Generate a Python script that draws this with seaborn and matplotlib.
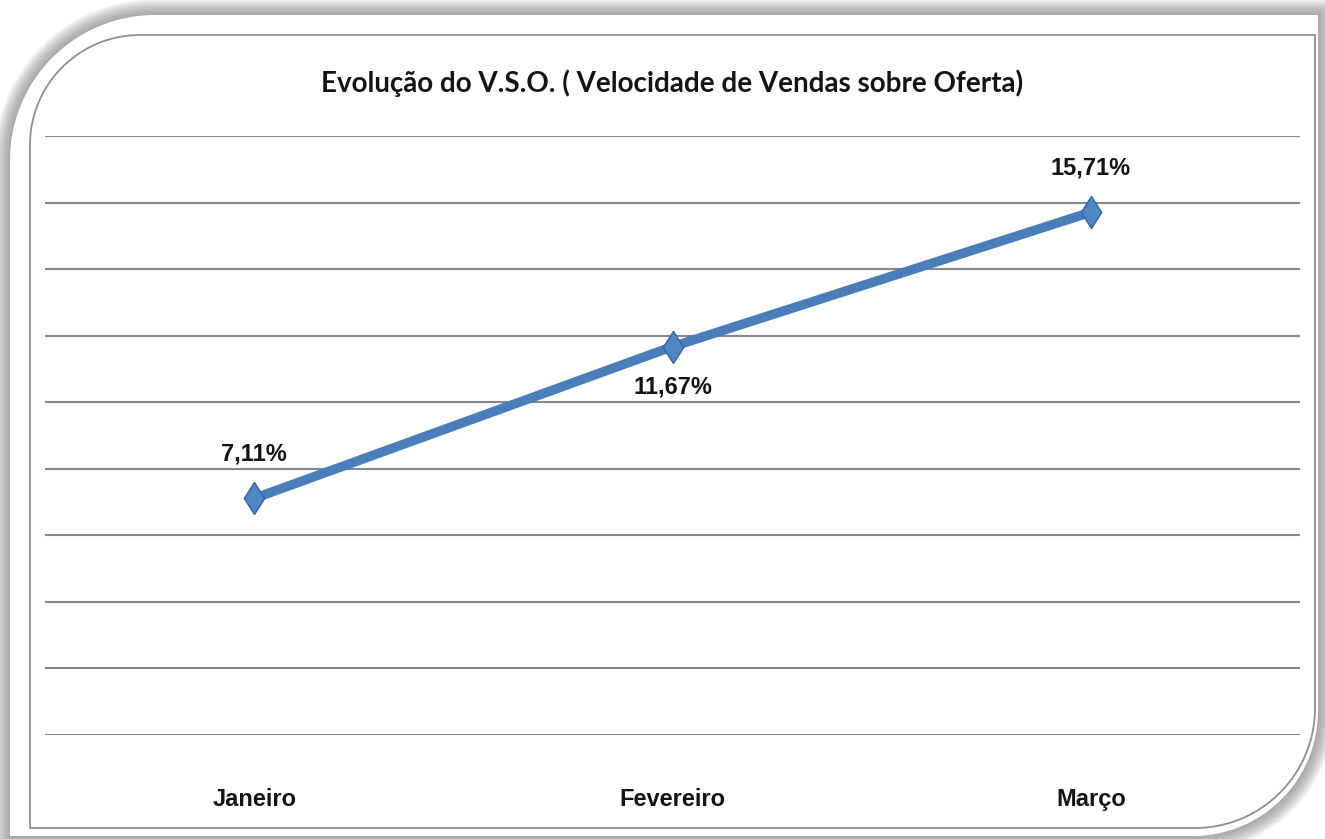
import numpy as np
import pandas as pd
import matplotlib
matplotlib.use("Agg")
import matplotlib.pyplot as plt
from matplotlib.patches import Polygon
from matplotlib.path import Path
import seaborn as sns

# ---- data ----
months = ["Janeiro", "Fevereiro", "Março"]
vso_values = [7.11, 11.67, 15.71]
value_labels = ["7,11%", "11,67%", "15,71%"]
label_side = ["above", "below", "above"]
title = "Evolução do V.S.O. ( Velocidade de Vendas sobre Oferta)"
y_ticks = list(range(0, 19, 2))

W, H = 1325, 839
sns.set_theme(style="white")
plt.rcParams['font.family'] = ['Liberation Sans Narrow', 'Liberation Sans', 'DejaVu Sans']

fig = plt.figure(figsize=(W / 100, H / 100), dpi=100)
fig.patch.set_facecolor("white")


def card_path(x0, y0, x1, y1, r_tl, r_br, n=40):
    pts = [(x0 + r_tl, y0), (x1, y0), (x1, y1 - r_br)]
    a = np.linspace(0, np.pi / 2, n)
    pts += list(zip(x1 - r_br + r_br * np.cos(a), y1 - r_br + r_br * np.sin(a)))
    pts += [(x0, y1), (x0, y0 + r_tl)]
    a = np.linspace(np.pi, 1.5 * np.pi, n)
    pts += list(zip(x0 + r_tl + r_tl * np.cos(a), y0 + r_tl + r_tl * np.sin(a)))
    return np.array([(x / W, 1 - y / H) for x, y in pts])


# shadow glow
for k in range(16, 0, -1):
    fig.patches.append(Polygon(card_path(10 - k, 15 - k, 1318 + k, 836 + k, 145 + k, 125 + k),
                               closed=True, transform=fig.transFigure,
                               facecolor="#7a7a7a", edgecolor="none", alpha=0.055, zorder=0))
# outer white card
fig.patches.append(Polygon(card_path(10, 15, 1318, 836, 145, 125), closed=True,
                           transform=fig.transFigure, facecolor="white",
                           edgecolor="none", zorder=1))
# inner chart frame
fig.patches.append(Polygon(card_path(30, 35, 1315, 828, 110, 120), closed=True,
                           transform=fig.transFigure, facecolor="white",
                           edgecolor="#8f8f8f", linewidth=1.3, zorder=2))

ax = fig.add_axes([45 / W, 1 - 735 / H, (1300 - 45) / W, (735 - 136) / H])
ax.set_zorder(3)
ax.patch.set_alpha(0)

df = pd.DataFrame({"month": months, "vso": vso_values})
df["pos"] = range(len(months))

for yv in y_ticks:
    ax.axhline(yv, color="#878787", linewidth=1.5, zorder=1)

diamond = Path([(0, 1), (0.64, 0), (0, -1), (-0.64, 0), (0, 1)],
               [Path.MOVETO, Path.LINETO, Path.LINETO, Path.LINETO, Path.CLOSEPOLY])

sns.lineplot(data=df, x="pos", y="vso", ax=ax, color="#4A7EBB", linewidth=6.8,
             solid_capstyle="butt", zorder=3, legend=False)
ax.plot(df["pos"], df["vso"], linestyle="none", marker=diamond, markersize=23,
        markerfacecolor="#4F86C6", markeredgecolor="#35639e", markeredgewidth=1.0, zorder=4)

for p, v, lab, side in zip(df["pos"], vso_values, value_labels, label_side):
    off = 44 if side == "above" else -40
    ax.annotate(lab, (p, v), xytext=(0, off), textcoords="offset pixels",
                ha="center", va="center", fontsize=17, fontweight="bold",
                color="#141414", zorder=5)

ax.set_xlim(-0.5, len(months) - 0.5)
ax.set_ylim(0, 18)
ax.set_xticks(df["pos"])
ax.set_xticklabels(months, fontsize=17, fontweight="bold", color="#141414")
ax.tick_params(axis="x", length=0, pad=38)
ax.set_yticks([])
ax.set_xlabel("")
ax.set_ylabel("")
for s in ax.spines.values():
    s.set_visible(False)

fig.text(672 / W, 1 - 83 / H, title, ha="center", va="center", fontsize=20,
         fontweight="bold", color="#141414", family=["Lato", "DejaVu Sans"], zorder=5)

fig.savefig("out.png", dpi=100, facecolor=fig.get_facecolor())
